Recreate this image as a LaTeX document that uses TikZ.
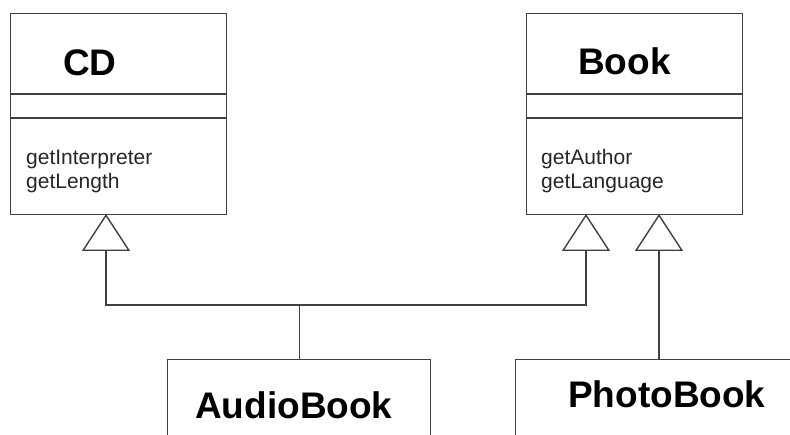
\documentclass[tikz,border=0pt]{standalone}
\usepackage{fontspec}
\setmainfont{Liberation Sans}
\usetikzlibrary{arrows.meta}

\begin{document}
\begin{tikzpicture}[x=1pt,y=1pt,
  classbox/.style={rectangle,draw=black!75,line width=1.4pt,anchor=north west,inner sep=0pt},
  classname/.style={anchor=base west,inner sep=0pt,font=\fontsize{37}{44}\selectfont\bfseries},
  method/.style={anchor=base west,inner sep=0pt,text=black!85,font=\fontsize{21}{24}\selectfont},
  inherit/.style={draw=black!75,line width=1.4pt,
    -{Triangle[open,length=37pt,width=48pt,fill=white]}}]
 \useasboundingbox (0,0) rectangle (790,-435);
 \clip (0,0) rectangle (790,-435);

 % super classes
 \node[classbox,minimum width=216,minimum height=201] (cd) at (10,-13) {};
 \node[classbox,minimum width=216,minimum height=201] (book) at (526,-13) {};
 \foreach \cls in {cd,book}
   \foreach \y in {-94,-118}
     \draw[draw=black!75,line width=1.4pt] (\cls.west |- 0,\y) -- (\cls.east |- 0,\y);

 \node[classname] (cdname) at (63,-76) {CD};
 \node[classname] (bookname) at (578,-75) {Book};
 \node[method] (cdm1) at (26,-165) {getInterpreter};
 \node[method] (cdm2) at (26,-189) {getLength};
 \node[method] (bookm1) at (541,-165) {getAuthor};
 \node[method] (bookm2) at (541,-189) {getLanguage};

 % sub classes (cut off at the bottom)
 \node[classbox,minimum width=263,minimum height=120] (audio) at (167,-359) {};
 \node[classbox,minimum width=300,minimum height=120] (photo) at (515,-359) {};
 \node[classname] (audioname) at (195,-419) {AudioBook};
 \node[classname] (photoname) at (568,-408) {PhotoBook};

 % generalisation
 \coordinate (cdtip) at (106,-214);
 \coordinate (booktip) at (586,-214);
 \coordinate (booktip2) at (659,-214);
 \coordinate (joint) at (audio.north |- 0,-305);
 \draw[draw=black!75,line width=1.4pt] (audio.north) -- (joint);
 \draw[inherit] (joint) -| (cdtip);
 \draw[inherit] (joint) -| (booktip);
 \draw[inherit] (booktip2 |- photo.north) -- (booktip2);
\end{tikzpicture}
\end{document}
